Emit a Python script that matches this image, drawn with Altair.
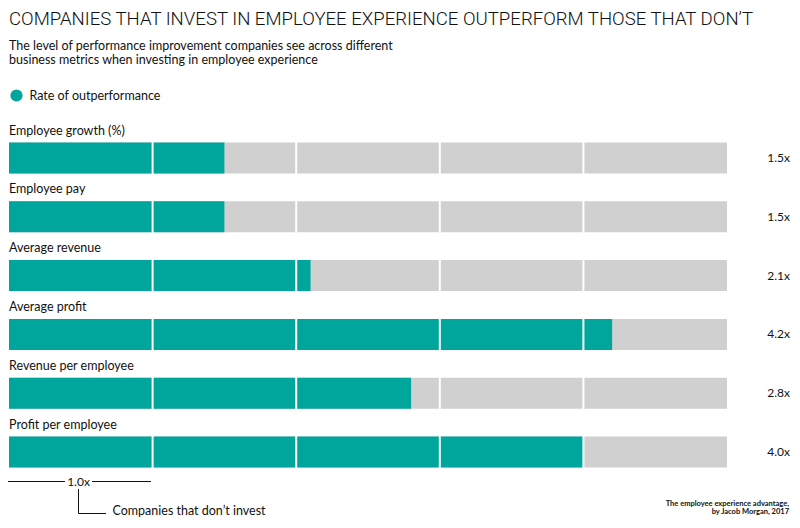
import altair as alt
import pandas as pd

# ---- data ----
categories = ["Employee growth (%)", "Employee pay", "Average revenue",
              "Average profit", "Revenue per employee", "Profit per employee"]
values = [1.5, 1.5, 2.1, 4.2, 2.8, 4.0]
value_labels = ["1.5x", "1.5x", "2.1x", "4.2x", "2.8x", "4.0x"]
scale_max = 5.0
dividers = [1, 2, 3, 4]

title_text = "COMPANIES THAT INVEST IN EMPLOYEE EXPERIENCE OUTPERFORM THOSE THAT DON\u2019T"
subtitle_lines = ["The level of performance improvement companies see across different",
                  "business metrics when investing in employee experience"]
legend_label = "Rate of outperformance"
baseline_label = "1.0x"
baseline_note = "Companies that don\u2019t invest"
source_lines = ["The employee experience advantage,", "by Jacob Morgan, 2017"]

TEAL = "#00A59B"
GREY = "#D0D0D0"
FONT = "Lato"
TFONT = "Roboto"

W, H = 784, 512

df = pd.DataFrame({"cat": categories, "value": values, "label": value_labels,
                   "max": [scale_max] * len(categories)})
div_df = pd.DataFrame({"d": dividers})

xs = alt.Scale(domain=[0, scale_max], range=[1, 719], nice=False, zero=True)
ys = alt.Scale(domain=categories, range=[120.6, 473.4], paddingInner=0, paddingOuter=0)

X = lambda f: alt.X(f, type="quantitative", scale=xs, axis=None)
Y = alt.Y("cat:N", scale=ys, axis=None, sort=categories)

base = alt.Chart(df)

grey = base.mark_bar(color=GREY, height=31).encode(x=X("max"), y=Y)
teal = base.mark_bar(color=TEAL, height=31).encode(x=X("value"), y=Y)

rules = alt.Chart(div_df).mark_rule(color="white", strokeWidth=2).encode(
    x=alt.X("d:Q", scale=xs, axis=None),
    y=alt.value(118), y2=alt.value(476))

cat_text = base.mark_text(align="left", baseline="middle", font=FONT, fontSize=12.5,
                          dy=-27.5, color="#111").encode(
    x=alt.value(1), y=Y, text="cat:N")
val_text = base.mark_text(align="right", baseline="middle", font=FONT, fontSize=12,
                          color="#111").encode(
    x=alt.value(782), y=Y, text="label:N")

def txt(s, x, y, size, align="left", font=FONT, weight="normal", color="#111"):
    return alt.Chart(pd.DataFrame({"t": [s]})).mark_text(
        align=align, baseline="middle", font=font, fontSize=size, fontWeight=weight,
        color=color).encode(x=alt.value(x), y=alt.value(y), text="t:N")

title = txt(title_text, 1, 10.5, 18.6, font=TFONT, weight=300)
sub1 = txt(subtitle_lines[0], 1, 37.9, 12.5)
sub2 = txt(subtitle_lines[1], 1, 52.4, 12.5)
leg_dot = alt.Chart(pd.DataFrame({"t": [legend_label]})).mark_point(
    filled=True, color=TEAL, size=150, opacity=1).encode(
    x=alt.value(8.5), y=alt.value(87.5))
leg_txt = txt(legend_label, 21.5, 87.5, 12.5)

def seg(x1, y1, x2, y2):
    return alt.Chart(pd.DataFrame({"a": [0]})).mark_rule(color="#111", strokeWidth=1).encode(
        x=alt.value(x1), y=alt.value(y1), x2=alt.value(x2), y2=alt.value(y2))

ann = [
    seg(0, 473.5, 57, 473.5),
    seg(84, 473.5, 143, 473.5),
    txt(baseline_label, 70.5, 473.5, 12, align="center"),
    seg(70.5, 481, 70.5, 505.5),
    seg(70.5, 505.5, 98, 505.5),
    txt(baseline_note, 104.5, 503, 12.5),
    txt(source_lines[0], 781, 495.5, 7.5, align="right", weight="bold"),
    txt(source_lines[1], 781, 504, 7.5, align="right", weight="bold"),
]

chart = alt.layer(grey, teal, rules, cat_text, val_text, title, sub1, sub2,
                  leg_dot, leg_txt, *ann).properties(
    width=W, height=H, autosize=alt.AutoSizeParams(type="none"), padding=0
).configure_view(stroke=None)

chart.save("out.html", embed_options={"renderer": "svg", "actions": False})
